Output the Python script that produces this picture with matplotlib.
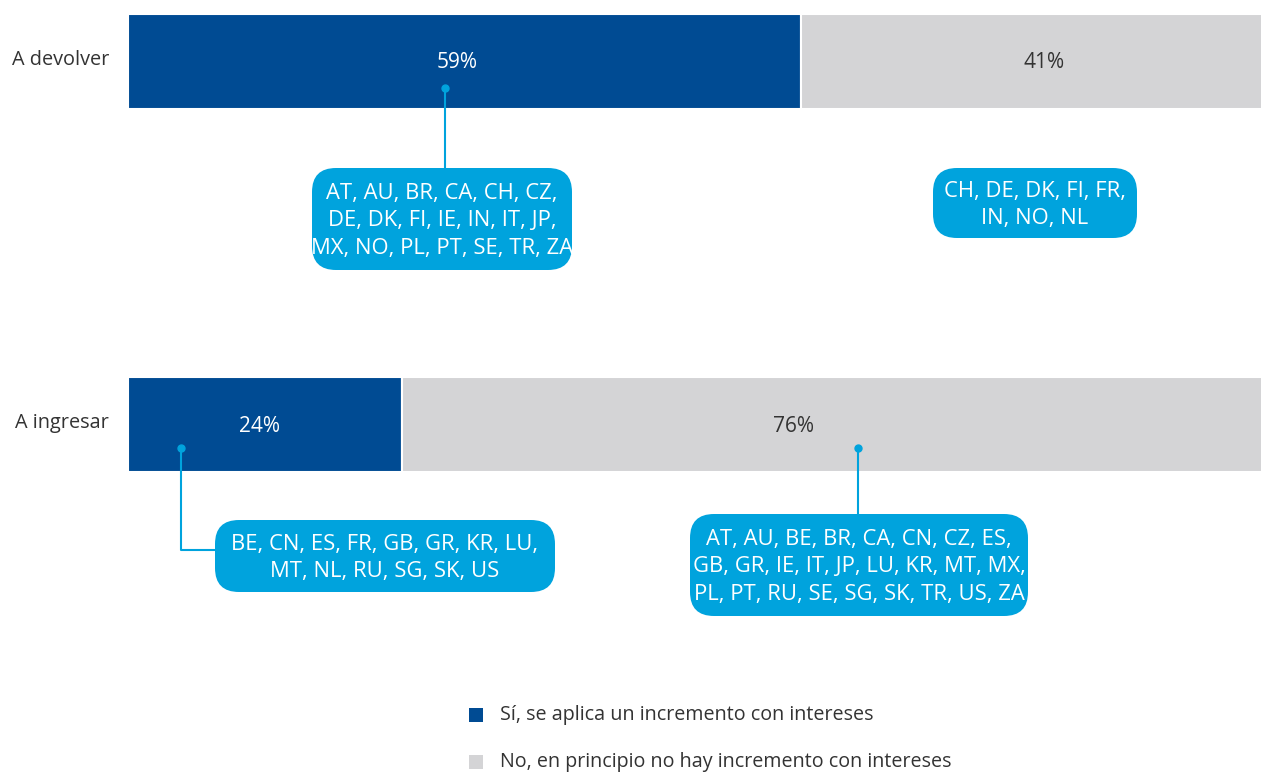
import matplotlib
matplotlib.use("Agg")
import matplotlib.pyplot as plt
from matplotlib.patches import FancyBboxPatch, Rectangle

plt.rcParams['font.family'] = ['Open Sans', 'DejaVu Sans']

# Data
categories = ["A devolver", "A ingresar"]
si_values = [59, 24]
no_values = [41, 76]
legend_labels = ["Sí, se aplica un incremento con intereses",
                 "No, en principio no hay incremento con intereses"]
box_texts = [
    "AT, AU, BR, CA, CH, CZ,\nDE, DK, FI, IE, IN, IT, JP,\nMX, NO, PL, PT, SE, TR, ZA",
    "CH, DE, DK, FI, FR,\nIN, NO, NL",
    "BE, CN, ES, FR, GB, GR, KR, LU,\nMT, NL, RU, SG, SK, US",
    "AT, AU, BE, BR, CA, CN, CZ, ES,\nGB, GR, IE, IT, JP, LU, KR, MT, MX,\nPL, PT, RU, SE, SG, SK, TR, US, ZA",
]

DARK = "#004b93"
GREY = "#d4d4d6"
CYAN = "#00a3dd"
TEXT = "#333333"

W, H = 1261, 772
fig = plt.figure(figsize=(W / 100, H / 100), dpi=100)

# bar axes in percent, y in pixel rows
ax = fig.add_axes([128 / W, 0, 1140 / W, 1])
ax.set_xlim(0, 100)
ax.set_ylim(H, 0)
ax.axis("off")

ypos = [61, 424]
bar_h = 95
ax.barh(ypos, si_values, height=bar_h, color=DARK, edgecolor="white", linewidth=1.5)
ax.barh(ypos, no_values, left=si_values, height=bar_h, color=GREY, edgecolor="white", linewidth=1.5)

# percent labels (positions)
pct_x = [(28.9, 80.4), (11.5, 58.4)]
for i, y in enumerate(ypos):
    ax.text(pct_x[i][0], y + 2, f"{si_values[i]}%", color="white", fontsize=15,
            ha="center", va="center")
    ax.text(pct_x[i][1], y + 2, f"{no_values[i]}%", color=TEXT, fontsize=15,
            ha="center", va="center")

# overlay in pixel coordinates for labels/callouts
ov = fig.add_axes([0, 0, 1, 1], zorder=3)
ov.set_xlim(0, W)
ov.set_ylim(H, 0)
ov.axis("off")

for y, cat in zip(ypos, categories):
    ov.text(109, y - 1, cat, ha="right", va="center", fontsize=14.3, color=TEXT)

# callout boxes: (x0, y0, x1, y1)
boxes = [(312, 168, 572, 270), (933, 168, 1137, 238), (215, 520, 555, 592), (690, 514, 1028, 616)]
for (x0, y0, x1, y1), txt in zip(boxes, box_texts):
    p = FancyBboxPatch((x0, y0), x1 - x0, y1 - y0,
                       boxstyle="round,pad=0,rounding_size=24",
                       facecolor=CYAN, edgecolor="none")
    ov.add_patch(p)
    ov.text((x0 + x1) / 2, (y0 + y1) / 2 + 2, txt, ha="center", va="center",
            color="white", fontsize=15.8, linespacing=1.43)

# connector lines and dots
ov.plot([445, 445], [88, 168], color=CYAN, lw=1.5)
ov.plot([445], [88], "o", color=CYAN, ms=5)
ov.plot([181, 181, 215], [448, 550, 550], color=CYAN, lw=1.5)
ov.plot([181], [448], "o", color=CYAN, ms=5)
ov.plot([858, 858], [448, 514], color=CYAN, lw=1.5)
ov.plot([858], [448], "o", color=CYAN, ms=5)

# legend
for j, (lab, col) in enumerate(zip(legend_labels, [DARK, GREY])):
    ly = 715 + j * 47
    ov.add_patch(Rectangle((469, ly - 7), 14, 14, facecolor=col, edgecolor="none"))
    ov.text(500, ly, lab, ha="left", va="center", fontsize=14.2, color=TEXT)

fig.savefig("out.png", dpi=100)
